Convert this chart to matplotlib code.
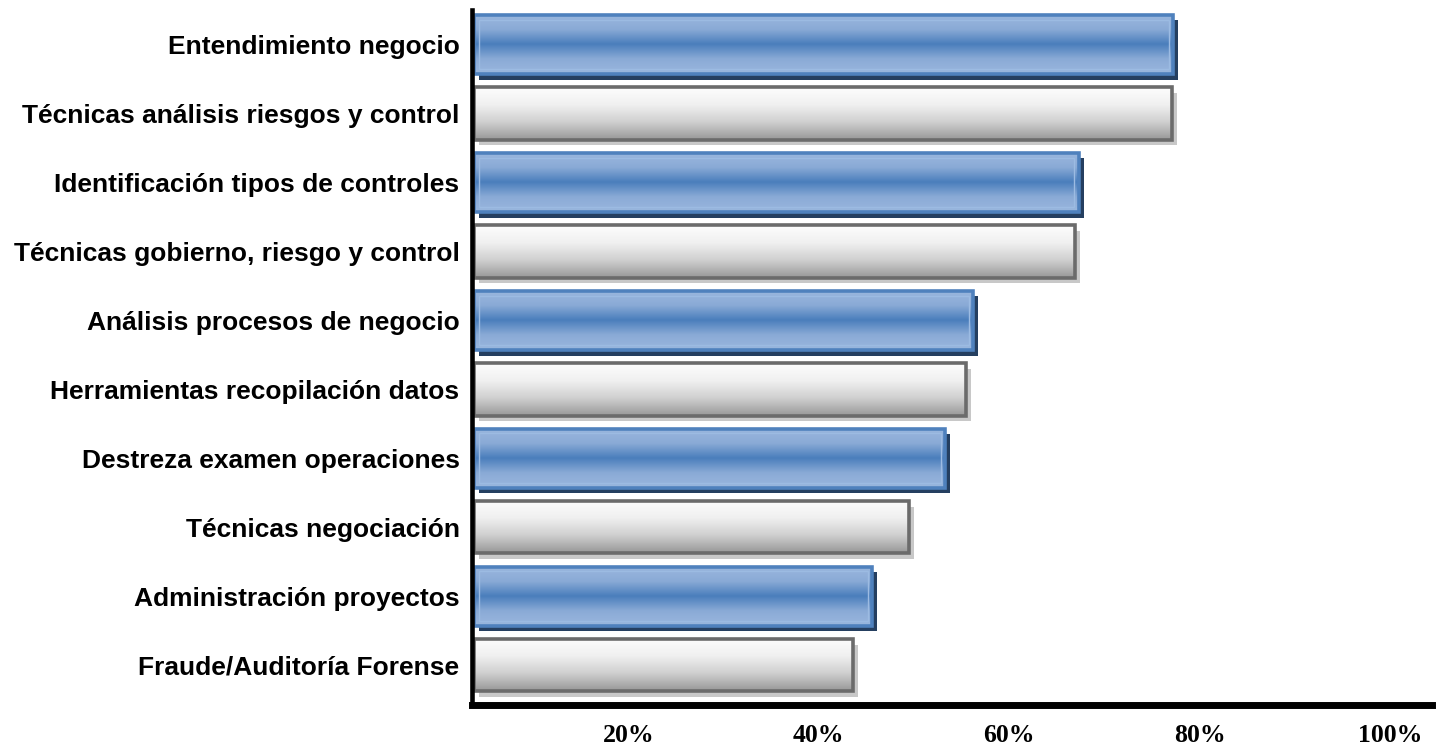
import numpy as np
import matplotlib
matplotlib.use("Agg")
import matplotlib.pyplot as plt
import matplotlib.patheffects as pe
from matplotlib.patches import Rectangle

categories = [
    "Entendimiento negocio",
    "Técnicas análisis riesgos y control",
    "Identificación tipos de controles",
    "Técnicas gobierno, riesgo y control",
    "Análisis procesos de negocio",
    "Herramientas recopilación datos",
    "Destreza examen operaciones",
    "Técnicas negociación",
    "Administración proyectos",
    "Fraude/Auditoría Forense",
]
values = [77.2, 77.1, 67.3, 66.9, 56.2, 55.5, 53.3, 49.5, 45.6, 43.6]
tick_values = [20, 40, 60, 80, 100]
tick_labels = ["20%", "40%", "60%", "80%", "100%"]

X_MIN, X_MAX = 3.6, 104.4
BAR_START = 3.85

# two alternating bar looks: blue glossy and grey glossy
STYLES = {
    "blue": dict(height=0.86, edge="#4f81bd", inner="#9cbbe2", shadow="#253f60",
                 stops=["#9ab7de", "#8aaad6", "#4a7ebc", "#8aaad6", "#9ab7de"]),
    "grey": dict(height=0.76, edge="#6b6b6b", inner=None, shadow="#c8c8c8",
                 stops=["#fdfdfd", "#f0f0f0", "#cfcfcf", "#989898"]),
}


def gradient(stops, n=64):
    rgb = np.array([matplotlib.colors.to_rgb(c) for c in stops])
    pos = np.linspace(0, 1, len(stops))
    t = np.linspace(0, 1, n)
    cols = np.stack([np.interp(t, pos, rgb[:, k]) for k in range(3)], axis=1)
    return cols.reshape(n, 1, 3)


fig = plt.figure(figsize=(14.44, 7.46), dpi=100)
ax = fig.add_axes([472 / 1444, 1 - 704.5 / 746, (1432 - 472) / 1444, (704.5 - 10) / 746])

ypos = np.arange(len(categories))
for i, (cat, val) in enumerate(zip(categories, values)):
    st = STYLES["blue" if i % 2 == 0 else "grey"]
    bar = ax.barh(
        ypos[i], val - BAR_START, left=BAR_START, height=st["height"],
        color=st["stops"][2], linewidth=0, zorder=2,
        path_effects=[pe.SimplePatchShadow(offset=(3.6, -4.0), shadow_rgbFace=st["shadow"], alpha=1.0),
                      pe.Normal()],
    )[0]
    x0, y0, w, h = bar.get_x(), bar.get_y(), bar.get_width(), bar.get_height()
    ax.imshow(gradient(st["stops"]), extent=(x0, x0 + w, y0 + h, y0), origin="upper",
              aspect="auto", interpolation="bilinear", zorder=3)
    ax.add_patch(Rectangle((x0, y0), w, h, fill=False, edgecolor=st["edge"],
                           linewidth=2.6, zorder=4))
    if st["inner"]:
        ax.add_patch(Rectangle((x0 + 0.45, y0 + 0.07), w - 0.9, h - 0.14, fill=False,
                               edgecolor=st["inner"], linewidth=1.0, zorder=4))

ax.set_xlim(X_MIN, X_MAX)
ax.set_ylim(len(categories) - 0.43, -0.5)

ax.set_yticks(ypos)
ax.set_yticklabels(categories, fontfamily="Liberation Sans", fontweight="bold", fontsize=19)
ax.set_xticks(tick_values)
ax.set_xticklabels(tick_labels, fontfamily="Liberation Serif", fontweight="bold", fontsize=18.5)
ax.tick_params(axis="y", length=0, pad=9)
ax.tick_params(axis="x", length=0, pad=14)

for side in ("top", "right"):
    ax.spines[side].set_visible(False)
ax.spines["left"].set_linewidth(3.3)
ax.spines["bottom"].set_linewidth(5.0)
ax.spines["left"].set_zorder(5)
ax.spines["bottom"].set_zorder(5)

fig.savefig("out.png", dpi=100)
